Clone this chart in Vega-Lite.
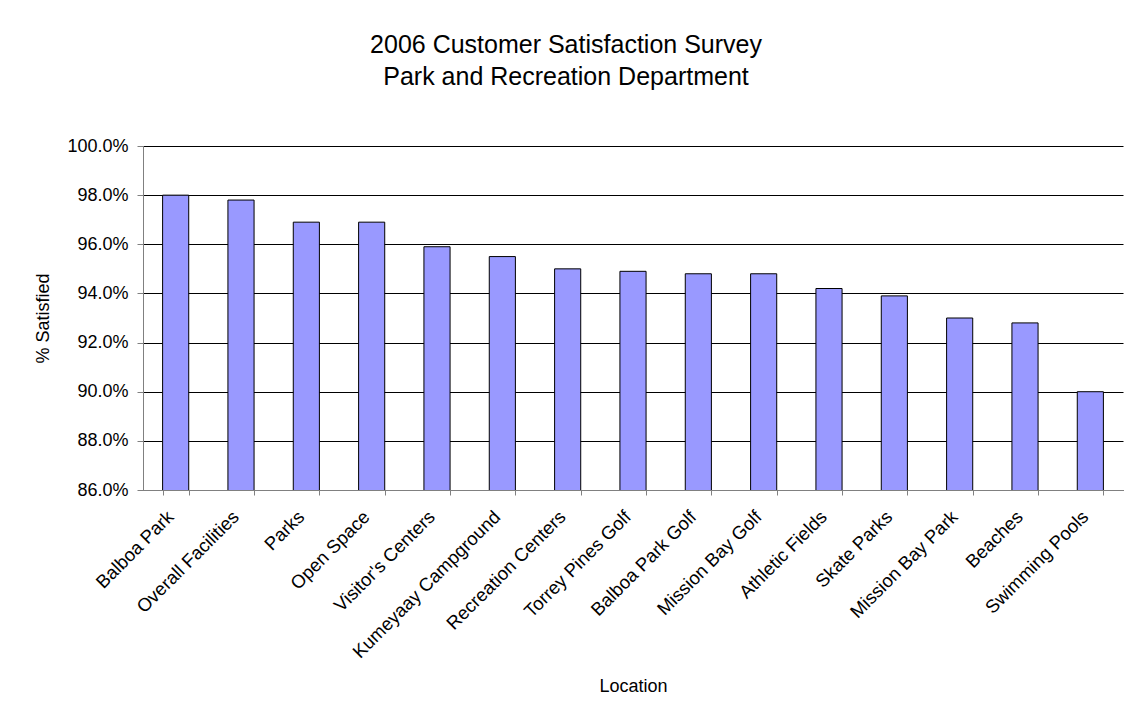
{
  "$schema": "https://vega.github.io/schema/vega-lite/v6.json",
  "autosize": {"type": "none"},
  "width": 980,
  "height": 344,
  "padding": {"left": 143, "top": 146, "right": 10, "bottom": 229},
  "background": "white",
  "title": {
    "text": ["2006 Customer Satisfaction Survey", "Park and Recreation Department"],
    "font": "Liberation Sans",
    "fontSize": 25,
    "fontWeight": "normal",
    "color": "black",
    "lineHeight": 32,
    "anchor": "middle",
    "dx": -67,
    "offset": 47
  },
  "data": {
    "values": [
      {"Location": "Balboa Park", "Satisfied": 0.980},
      {"Location": "Overall Facilities", "Satisfied": 0.978},
      {"Location": "Parks", "Satisfied": 0.969},
      {"Location": "Open Space", "Satisfied": 0.969},
      {"Location": "Visitor's Centers", "Satisfied": 0.959},
      {"Location": "Kumeyaay Campground", "Satisfied": 0.955},
      {"Location": "Recreation Centers", "Satisfied": 0.950},
      {"Location": "Torrey Pines Golf", "Satisfied": 0.949},
      {"Location": "Balboa Park Golf", "Satisfied": 0.948},
      {"Location": "Mission Bay Golf", "Satisfied": 0.948},
      {"Location": "Athletic Fields", "Satisfied": 0.942},
      {"Location": "Skate Parks", "Satisfied": 0.939},
      {"Location": "Mission Bay Park", "Satisfied": 0.930},
      {"Location": "Beaches", "Satisfied": 0.928},
      {"Location": "Swimming Pools", "Satisfied": 0.900}
    ]
  },
  "mark": {"type": "bar", "fill": "#9999FF", "stroke": "black", "strokeWidth": 1, "clip": true},
  "encoding": {
    "x": {
      "field": "Location",
      "type": "nominal",
      "sort": null,
      "scale": {"paddingInner": 0.6, "paddingOuter": 0.3},
      "axis": {
        "title": "Location",
        "labelAngle": -45,
        "labelFont": "Liberation Sans",
        "labelFontSize": 18.5,
        "labelColor": "black",
        "labelPadding": 12,
        "labelOffset": -12,
        "labelLimit": 400,
        "tickBand": "extent",
        "tickColor": "#808080",
        "tickSize": 5,
        "domainColor": "#808080",
        "titleFont": "Liberation Sans",
        "titleFontSize": 18,
        "titleFontWeight": "normal",
        "titleColor": "black",
        "titlePadding": 16,
        "grid": false
      }
    },
    "y": {
      "field": "Satisfied",
      "type": "quantitative",
      "scale": {"domain": [0.86, 1.0], "zero": false, "nice": false},
      "axis": {
        "title": "% Satisfied",
        "format": ".1%",
        "values": [0.86, 0.88, 0.90, 0.92, 0.94, 0.96, 0.98, 1.0],
        "labelFont": "Liberation Sans",
        "labelFontSize": 18,
        "labelColor": "black",
        "labelPadding": 9,
        "tickColor": "#808080",
        "tickSize": 6,
        "domainColor": "#808080",
        "grid": true,
        "gridColor": "black",
        "gridOpacity": 1,
        "gridWidth": 1,
        "titleFont": "Liberation Sans",
        "titleFontSize": 18,
        "titleFontWeight": "normal",
        "titleColor": "black",
        "titlePadding": 14
      }
    }
  },
  "config": {"view": {"stroke": null}}
}
